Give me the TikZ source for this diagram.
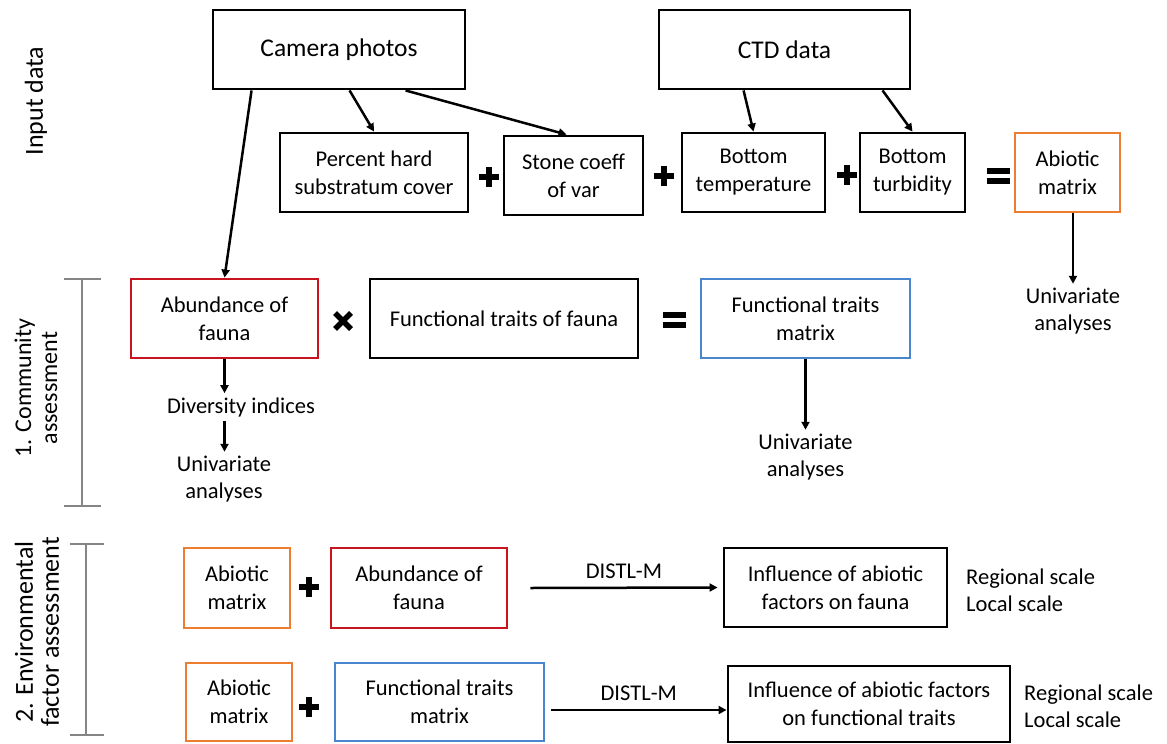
\documentclass[tikz,border=0pt]{standalone}
\usepackage{fontspec}
\setmainfont{Carlito}
\usetikzlibrary{arrows.meta,calc}
\definecolor{cred}{HTML}{C8141E}
\definecolor{corange}{HTML}{ED7D31}
\definecolor{cblue}{HTML}{4A86CE}
\definecolor{cgray}{HTML}{858585}
\begin{document}
\begin{tikzpicture}[x=1pt,y=-1pt,
  box/.style={draw, line width=2.9pt, inner sep=0pt, align=center, minimum height=79pt,
    font=\fontsize{22.5}{28}\selectfont},
  bigbox/.style={box, font=\fontsize{25.5}{30}\selectfont},
  redbox/.style={box, draw=cred},
  orbox/.style={box, draw=corange},
  bluebox/.style={box, draw=cblue},
  txt/.style={inner sep=4pt, align=center, font=\fontsize{22.5}{27}\selectfont},
  side/.style={inner sep=0pt, align=center, rotate=90},
  arr/.style={line width=2.5pt, -{Triangle[length=8pt,width=8pt]}},
  brk/.style={draw=cgray, line width=1.6pt},
  plussym/.pic={\fill (-10,-3) rectangle (10,3); \fill (-3,-10) rectangle (3,10);},
  eqsym/.pic={\fill (-11.5,-8) rectangle (11.5,-2); \fill (-11.5,2) rectangle (11.5,8);},
  timessym/.pic={\draw[line width=5.5pt] (-8,-8) -- (8,8) (-8,8) -- (8,-8);}
]
\useasboundingbox (0,0) rectangle (1167,744);

% side labels
\node[side, font=\fontsize{26}{30}\selectfont] (lin) at (36,101) {Input data};
\node[side, font=\fontsize{24}{26}\selectfont] (lcom) at (36,388) {1. Community\\assessment};
\node[side, font=\fontsize{26}{26}\selectfont] (lenv) at (37,632) {2. Environmental\\factor assessment};
\coordinate (b1t) at (82,279); \coordinate (b1b) at (82,506);
\draw[brk] (b1t) -- (b1b);
\draw[brk] ($(b1t)+(-18,0)$) -- ($(b1t)+(19,0)$);
\draw[brk] ($(b1b)+(-18,0)$) -- ($(b1b)+(19,0)$);
\coordinate (b2t) at (86,544); \coordinate (b2b) at (86,735);
\draw[brk] (b2t) -- (b2b);
\draw[brk] ($(b2t)+(-16,0)$) -- ($(b2t)+(18,0)$);
\draw[brk] ($(b2b)+(-16,0)$) -- ($(b2b)+(18,0)$);

% input data
\node[bigbox, minimum width=252pt] (cam) at (339,49.5) {Camera photos};
\node[bigbox, minimum width=251pt] (ctd) at (784.5,49.5) {CTD data};
\node[box, minimum width=188pt] (pct) at (374,172.5) {Percent hard\\substratum cover};
\node[box, minimum width=139pt] (stone) at (573.5,175.5) {Stone coeff\\of var};
\node[box, minimum width=143pt] (temp) at (753.5,172.5) {Bottom\\temperature};
\node[box, minimum width=105pt] (turb) at (912.5,172.5) {Bottom\\turbidity};
\node[orbox, minimum width=105pt] (abio1) at (1067.5,172.5) {Abiotic\\matrix};
\pic at (489,177) {plussym};
\pic at (664,176) {plussym};
\pic at (847,175) {plussym};
\pic at (998,176) {eqsym};

\draw[arr] ([xshift=138pt]cam.south west) -- (pct.north);
\draw[arr] ([xshift=194pt]cam.south west) -- ([xshift=64pt]stone.north west);
\draw[arr] ([xshift=86pt]ctd.south west) -- (temp.north);
\draw[arr] ([xshift=225pt]ctd.south west) -- (turb.north);

\node[txt] (uni1) at (1073,311) {Univariate\\analyses};
\draw[arr] (abio1.south -| uni1.north) -- (uni1.north);

% community assessment
\node[redbox, minimum width=187pt] (abund) at (224.5,318.5) {Abundance of\\fauna};
\node[box, minimum width=268pt] (ftf) at (504,318.5) {Functional traits of fauna};
\node[bluebox, minimum width=209pt] (ftm) at (805.5,318.5) {Functional traits\\matrix};
\pic at (343,321) {timessym};
\pic at (674,320) {eqsym};
\draw[arr] ([xshift=40pt]cam.south west) -- (abund.north);

\node[txt] (div) at (241,407) {Diversity indices};
\node[txt] (uni2) at (224,479) {Univariate\\analyses};
\draw[arr] (abund.south) -- (abund.south |- div.north);
\draw[arr] (abund.south |- div.south) -- (abund.south |- uni2.north);

\node[txt] (uni3) at (805.5,457) {Univariate\\analyses};
\draw[arr] (ftm.south) -- (uni3.north);

% environmental factor assessment
\node[orbox, minimum width=106pt, minimum height=80pt] (abio2) at (237,588) {Abiotic\\matrix};
\node[redbox, minimum width=176pt, minimum height=80pt] (abund2) at (419,588) {Abundance of\\fauna};
\node[box, minimum width=223pt] (infl1) at (835.5,587.5) {Influence of abiotic\\factors on fauna};
\pic at (309,587) {plussym};
\draw[arr] ([xshift=22pt]abund2.east) -- node[txt, above=4pt] (d1) {DISTL-M} ([xshift=-5pt]infl1.west);
\node[txt, anchor=west, align=left] (sc1) at (962,590) {Regional scale\\Local scale};

\node[orbox, minimum width=106pt, minimum height=78pt] (abio3) at (239,702) {Abiotic\\matrix};
\node[bluebox, minimum width=209pt, minimum height=78pt] (ftm2) at (439.5,702) {Functional traits\\matrix};
\node[box, minimum width=282pt, minimum height=76pt] (infl2) at (869,704) {Influence of abiotic factors\\on functional traits};
\pic at (309,707) {plussym};
\coordinate (l2s) at (551,710);
\draw[arr] (l2s) -- node[txt, above=4pt] (d2) {DISTL-M} (l2s -| infl2.west);
\node[txt, anchor=west, align=left] (sc2) at (1020,706) {Regional scale\\Local scale};
\end{tikzpicture}
\end{document}
